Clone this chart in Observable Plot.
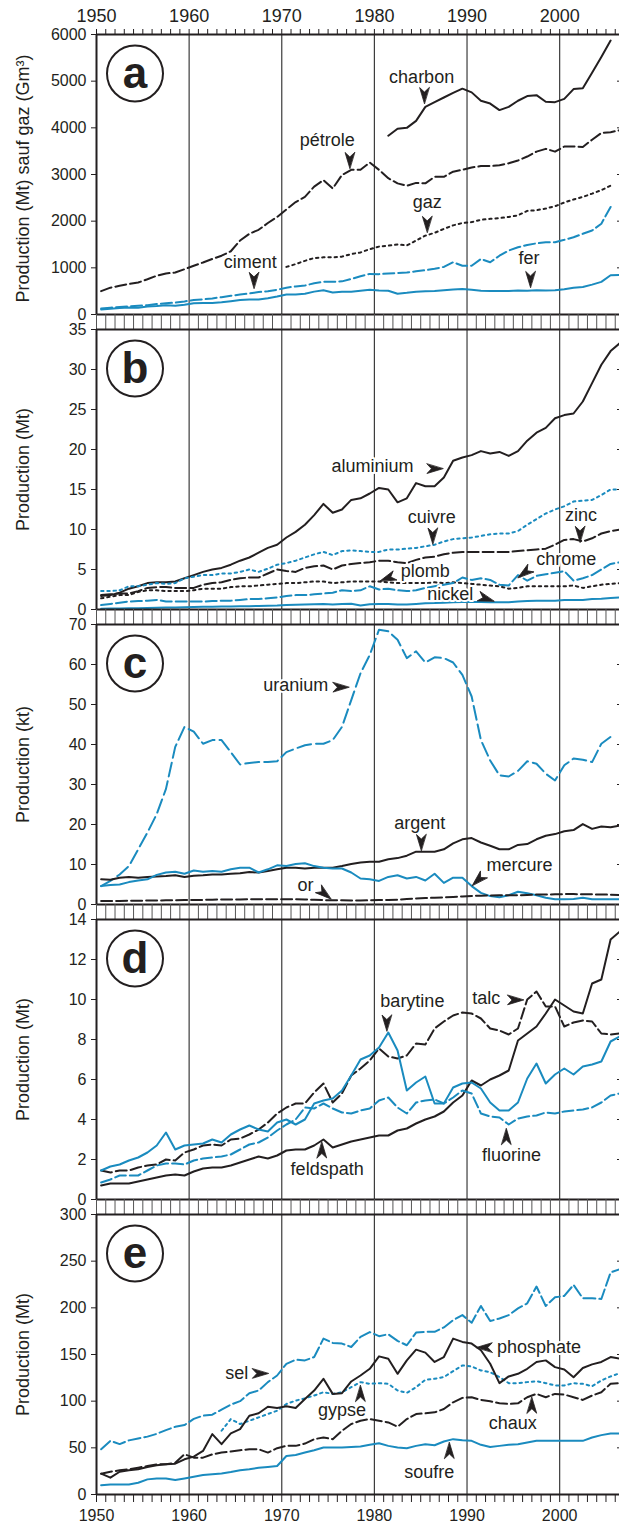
<!DOCTYPE html>
<html><head><meta charset="utf-8">
<script src="https://cdn.jsdelivr.net/npm/d3@7"></script>
<script src="https://cdn.jsdelivr.net/npm/@observablehq/plot@0.6"></script>
<style>
body{margin:0;background:#fff;}
#chart{position:relative;width:619px;height:1523px;overflow:hidden;background:#fff;}
#chart svg{position:absolute;left:0;}
</style></head><body><div id="chart"></div><script>
// ---------- data ----------
const years = d3.range(1950, 2007);
const decades = [1950, 1960, 1970, 1980, 1990, 2000];

// panel a (Mt, gaz in Gm3)
const petrole = [500,575,615,655,685,755,830,880,900,970, 1045,1115,1190,1260,1355,1585,1730,1815,1960,2090, 2250,2410,2520,2740,2880,2700,2990,3100,3100,3255, 3100,2920,2810,2760,2820,2810,2950,2950,3060,3100, 3150,3180,3180,3200,3240,3300,3385,3490,3550,3490, 3600,3600,3590,3745,3890,3905,3950];
const charbonStart = 1981;
const charbon = [3830,3980,4000,4150,4450,4550,4650,4750,4840,4760,4580,4520,4380,4450,4580,4680,4700,4560,4550,4620,4830,4850,5180,5520,5870];
const gazStart = 1970;
const gaz = [1020,1080,1150,1210,1225,1225,1240,1295,1330,1400, 1455,1475,1500,1480,1585,1690,1750,1835,1910,1960, 1980,2030,2050,2065,2090,2125,2220,2235,2270,2320, 2400,2465,2520,2590,2665,2760];
const ciment = [130,145,160,175,190,200,225,240,255,280, 310,325,345,370,400,430,450,480,500,530, 575,600,620,670,700,700,710,760,820,870, 865,880,890,900,925,950,980,1020,1120,1045, 1045,1190,1120,1260,1370,1440,1490,1525,1550,1550, 1600,1655,1730,1800,1945,2305];
const fer = [108,125,140,150,145,170,180,200,190,210, 240,245,245,260,285,310,320,320,350,385, 430,430,445,490,520,470,485,490,510,530, 515,510,445,465,490,500,505,520,535,545, 530,510,505,505,505,515,510,520,515,520, 540,575,590,640,700,840,850];

// panel b (Mt)
const aluminium = [1.7,1.8,2.1,2.6,2.9,3.3,3.4,3.4,3.5,3.9, 4.3,4.7,5.0,5.2,5.6,6.1,6.5,7.1,7.7,8.1, 9.0,9.7,10.6,11.8,13.2,12.1,12.5,13.7,13.9,14.5, 15.2,15.0,13.4,13.9,15.8,15.4,15.4,16.5,18.6,19.0, 19.3,19.8,19.5,19.7,19.2,19.8,21.1,22.1,22.7,23.9, 24.3,24.5,26.0,28.3,30.6,32.3,33.3];
const cuivre = [2.3,2.3,2.4,2.9,2.9,3.1,3.3,3.2,3.3,3.9, 4.1,4.3,4.3,4.5,4.5,4.7,5.0,4.7,5.1,5.6, 5.8,6.1,6.5,6.9,7.2,6.8,7.3,7.4,7.3,7.2, 7.2,7.5,7.5,7.6,7.7,7.9,8.1,8.5,8.8,8.9, 9.0,9.2,9.4,9.5,9.5,9.8,10.6,11.3,12.0,12.5, 12.9,13.5,13.6,13.7,14.3,15.0,15.0];
const zinc = [1.8,1.9,2.0,2.0,2.3,2.7,2.8,2.8,2.7,2.7, 2.7,3.1,3.3,3.4,3.7,3.9,4.0,4.0,4.5,5.0, 4.8,4.7,5.2,5.4,5.5,5.0,5.5,5.7,5.8,5.9, 6.1,6.1,5.9,5.8,6.2,6.5,6.6,6.9,7.1,7.2, 7.2,7.2,7.2,7.2,7.2,7.3,7.4,7.5,7.6,8.1, 8.7,8.8,8.5,8.9,9.5,9.8,10.0];
const plomb = [1.4,1.6,1.8,1.8,2.2,2.4,2.4,2.3,2.3,2.3, 2.4,2.6,2.6,2.6,2.8,2.9,2.9,3.0,3.1,3.2, 3.3,3.3,3.4,3.5,3.5,3.3,3.4,3.5,3.5,3.5, 3.5,3.4,3.3,3.3,3.3,3.3,3.4,3.3,3.4,3.3, 3.2,3.1,3.0,2.9,2.6,2.7,2.9,2.9,2.9,2.9, 2.9,3.0,2.7,2.9,3.1,3.2,3.3];
const chrome = [0.55,0.7,0.85,1.0,1.05,1.1,1.2,1.0,1.0,1.0, 1.0,1.0,1.05,1.1,1.1,1.2,1.3,1.3,1.4,1.5, 1.7,1.8,1.8,1.9,2.0,2.1,2.4,2.3,2.4,2.9, 2.5,2.6,2.4,2.3,2.4,2.7,2.9,3.1,3.3,4.0, 3.7,3.9,3.7,3.1,3.0,4.3,3.6,4.2,4.4,4.6, 4.8,3.6,3.9,4.3,5.0,5.7,5.9];
const nickel = [0.1,0.12,0.14,0.15,0.17,0.2,0.22,0.25,0.25,0.28, 0.3,0.33,0.35,0.37,0.38,0.4,0.42,0.45,0.48,0.5, 0.55,0.6,0.62,0.65,0.7,0.62,0.7,0.72,0.5,0.65, 0.7,0.7,0.62,0.62,0.7,0.78,0.8,0.85,0.9,0.95, 0.95,0.95,0.92,0.9,0.9,1.0,1.05,1.1,1.1,1.1, 1.2,1.2,1.2,1.3,1.35,1.45,1.5];

// panel c (kt)
const uranium = [4.6,5.9,7.5,9.6,13.8,18.0,22.6,28.9,39.4,44.4, 43.2,40.2,41.1,41.1,38.1,35.0,35.4,35.6,35.6,35.8, 38.1,39.0,39.8,40.2,40.2,41.1,44.4,51.1,57.8,62.4, 68.7,68.3,66.2,61.6,63.3,60.5,61.8,61.6,60.5,57.4, 52.0,41.1,36.0,32.3,32.0,33.4,35.8,35.2,32.7,31.0, 34.8,36.5,36.2,35.6,40.2,41.9];
const argent = [6.3,6.2,6.7,6.9,6.7,6.9,7.0,7.1,7.3,6.9, 7.2,7.3,7.5,7.5,7.7,7.8,8.1,8.0,8.4,8.8, 9.2,9.2,9.0,9.2,9.2,9.2,9.6,10.1,10.5,10.7, 10.7,11.3,11.6,12.2,13.2,13.2,13.2,13.8,15.3,16.3, 16.6,15.5,14.7,13.8,13.8,14.9,15.1,16.3,17.2,17.6, 18.3,18.6,20.1,18.9,19.5,19.3,19.7];
const mercure = [4.6,4.9,5.0,5.6,6.0,6.3,7.4,8.0,8.2,7.7, 8.5,8.2,8.4,8.2,8.8,9.2,9.2,8.0,8.8,9.8, 9.6,10.1,10.3,9.6,9.2,9.0,9.0,8.0,6.5,6.3, 5.9,6.9,7.3,6.5,6.9,6.0,7.7,5.4,6.7,6.7, 4.6,2.9,2.1,1.8,2.3,3.2,2.8,2.3,1.7,1.3, 1.3,1.4,1.7,1.3,1.3,1.3,1.3];
const or = [0.85,0.87,0.9,0.92,0.95,0.98,1.0,1.05,1.05,1.1, 1.1,1.15,1.2,1.25,1.25,1.25,1.3,1.3,1.3,1.3, 1.3,1.3,1.25,1.2,1.1,1.05,1.05,1.0,1.0,1.05, 1.1,1.1,1.2,1.4,1.5,1.6,1.7,1.8,1.9,2.0, 2.15,2.2,2.25,2.3,2.3,2.3,2.4,2.5,2.5,2.55, 2.6,2.6,2.55,2.55,2.5,2.45,2.4];

// panel d (Mt)
const feldspath = [0.7,0.8,0.8,0.8,0.9,1.0,1.1,1.2,1.25,1.2, 1.4,1.55,1.6,1.6,1.7,1.85,2.0,2.15,2.05,2.2, 2.45,2.5,2.5,2.7,3.0,2.6,2.75,2.9,3.0,3.1, 3.2,3.2,3.45,3.55,3.8,4.0,4.15,4.4,4.85,5.2, 5.95,5.7,6.0,6.2,6.45,7.95,8.3,8.65,9.3,10.0, 9.7,9.4,9.3,10.8,11.0,13.0,13.4];
const talc = [1.45,1.35,1.45,1.45,1.6,1.7,1.75,2.0,1.95,2.35, 2.5,2.7,2.75,2.7,3.0,3.05,3.25,3.5,3.85,4.3, 4.6,4.8,4.8,5.35,5.8,4.85,5.3,6.2,6.55,6.95, 7.55,7.15,7.05,7.2,7.8,7.75,8.55,8.9,9.2,9.35, 9.3,9.05,8.55,8.45,8.25,8.55,10.0,10.4,9.65,9.65, 8.65,8.85,8.95,8.9,8.3,8.25,8.3];
const barytine = [1.45,1.65,1.75,1.95,2.1,2.35,2.7,3.35,2.5,2.7, 2.75,2.8,3.0,2.85,3.25,3.5,3.7,3.5,3.4,3.85, 4.0,3.75,4.0,4.8,4.95,5.05,5.45,6.2,7.0,7.2, 7.6,8.35,7.45,5.45,5.85,6.15,4.8,4.8,5.6,5.8, 5.85,5.55,4.85,4.45,4.45,4.85,6.05,6.8,5.8,6.25, 6.55,6.25,6.65,6.75,6.9,7.9,8.15];
const fluorine = [0.85,1.0,1.2,1.2,1.2,1.45,1.7,1.8,1.8,1.75, 1.95,2.05,2.1,2.15,2.25,2.5,2.75,2.85,3.1,3.45, 3.75,4.0,4.6,4.55,4.8,4.55,4.35,4.3,4.45,4.55, 4.95,5.1,4.6,4.3,4.85,4.95,5.0,4.8,5.1,5.45, 5.3,4.3,4.15,4.1,3.75,4.05,4.15,4.2,4.35,4.3, 4.4,4.45,4.5,4.6,4.85,5.2,5.3];

// panel e (Mt)
const sel = [48.5,57.5,54,58,60,62,65,69,72.5,74.4, 81,84.5,85.5,91,96.3,100,108.5,111.4,120.4,127.5, 140,144.4,143.7,147.3,167,162.4,161.7,158,168.9,174, 169.6,171.7,164.6,159.9,173.5,174.3,174.3,179,186.8,192.2, 184,202,185.8,188.6,192.2,199.4,204.8,222.8,202,211.3, 212.7,224.6,210.2,210.2,209.5,237.9,241.4];
const phosphate = [22.3,18,24.4,25.9,27,29.5,31.3,32.3,33,37.7, 40.6,46.7,64.7,53.9,65.4,70,84.4,87,94,92.7, 94.5,92.7,102.4,111.4,124,107.8,108.5,121.1,127.5,134.7, 148,145.5,129.3,143.7,155.2,152,142,147.3,167,163.5, 161.7,154.5,140.1,119.3,126.5,129.3,134.7,142,143.7,136.5, 134,125.7,135.5,139.4,142,147.3,145.5];
const gypseStart = 1963;
const gypse = [68.3,80.8,75.5,79,82.6,86.2,89.8, 97,100.6,103,106,109.6,107.8,109.6,115,120.4,118.6, 119.3,118.6,111.4,108.9,115,122.9,124,125.8,132.2,138.3, 137.2,132.9,131.1,125.8,119.3,119.3,120.4,121.4,119.3,116.8, 116.8,119.3,118.6,116,122.2,126.5,130];
const chaux = [22.3,24.4,25.9,27,28.7,30.5,32.3,32.3,34.1,43.1, 39.5,39.5,43,44.9,46,47.4,48.5,48.5,44.9,49.6, 52.1,52.1,54.6,59.3,61,59.3,68.3,75.5,79,80.8, 79,77.2,72.6,80.8,86.2,87,88,91.6,98.8,103.5, 104.2,101.3,99.9,97.7,97,97.7,104.2,107.8,104.2,107.8, 107.1,104.2,101.3,106,109.6,118.6,119.3];
const soufre = [10,10.8,10.8,10.8,12.6,16.2,17.2,17.2,15.5,17.2, 19,20.8,21.6,22.6,24,25.9,27,28.7,29.5,30.5, 41.3,42.4,44.9,47.4,50.3,50.3,50.3,51,51.4,53.2, 55,52.1,50.3,49.6,52.1,53.9,52.8,56.8,59.3,58.2, 57.5,53.2,51,52.1,53.2,53.9,55.7,57.5,57.5,57.5, 57.5,57.5,57.5,61,63.6,65.4,65.4];

// ---------- styles ----------
const BLACK = "#231f20", BLUE = "#1a8bbf";
const DASH = "11,4", DOT = "2.4,3.8";
const FONT = "'Liberation Sans', Arial, Helvetica, sans-serif";

const rows = (values, start = 1950) => values.map((v, i) => ({year: start + i, v}));

const panels = [
  {key: "a", T: 34, mt: 34, mb: 15, max: 6000, step: 1000, title: "Production (Mt) sauf gaz (Gm³)", titleDy: 4,
   series: [
     {d: rows(petrole), c: BLACK, dash: DASH},
     {d: rows(charbon, charbonStart), c: BLACK},
     {d: rows(gaz, gazStart), c: BLACK, dash: DOT},
     {d: rows(ciment), c: BLUE, dash: DASH},
     {d: rows(fer), c: BLUE}],
   labels: [{t: "charbon", x: 1985.1, y: 5080}, {t: "pétrole", x: 1974.9, y: 3730}, {t: "gaz", x: 1985.7, y: 2410}, {t: "ciment", x: 1966.6, y: 1115}, {t: "fer", x: 1996.7, y: 1200}],
   arrows: [{x: 1985.4, y: 4520, r: 180}, {x: 1977.35, y: 3130, r: 180}, {x: 1985.7, y: 1760, r: 180}, {x: 1967.0, y: 560, r: 180}, {x: 1996.85, y: 580, r: 180}]},
  {key: "b", T: 329, mt: 20, mb: 15, max: 35, step: 5, title: "Production (Mt)", titleDy: 0,
   series: [
     {d: rows(aluminium), c: BLACK},
     {d: rows(cuivre), c: BLUE, dash: DOT},
     {d: rows(zinc), c: BLACK, dash: DASH},
     {d: rows(plomb), c: BLACK, dash: DOT},
     {d: rows(chrome), c: BLUE, dash: DASH},
     {d: rows(nickel), c: BLUE}],
   labels: [{t: "aluminium", x: 1979.8, y: 17.96}, {t: "cuivre", x: 1986.2, y: 11.54}, {t: "zinc", x: 2002.3, y: 11.75}, {t: "chrome", x: 2000.7, y: 6.29}, {t: "plomb", x: 1985.5, y: 4.81}, {t: "nickel", x: 1988.2, y: 1.875}],
   arrows: [{x: 1987.4, y: 17.6, r: 90}, {x: 1986.3, y: 8.18, r: 180}, {x: 2002.2, y: 8.4, r: 180}, {x: 1995.5, y: 3.98, r: 233}, {x: 1980.6, y: 3.55, r: 249}, {x: 1992.9, y: 1.03, r: 108}]},
  {key: "c", T: 624, mt: 20, mb: 15, max: 70, step: 10, title: "Production (kt)", titleDy: 0,
   series: [
     {d: rows(uranium), c: BLUE, dash: "14,5"},
     {d: rows(argent), c: BLACK},
     {d: rows(mercure), c: BLUE},
     {d: rows(or), c: BLACK, dash: DASH}],
   labels: [{t: "uranium", x: 1971.5, y: 54.8}, {t: "argent", x: 1984.9, y: 20.25}, {t: "mercure", x: 1995.66, y: 9.875}, {t: "or", x: 1972.57, y: 4.75}],
   arrows: [{x: 1977.25, y: 54.3, r: 90}, {x: 1985.06, y: 13.5, r: 180}, {x: 1990.57, y: 4.75, r: 226}, {x: 1975.3, y: 1.375, r: 129}]},
  {key: "d", T: 919, mt: 20, mb: 15, max: 14, step: 2, title: "Production (Mt)", titleDy: 0,
   series: [
     {d: rows(talc), c: BLACK, dash: DASH},
     {d: rows(feldspath), c: BLACK},
     {d: rows(fluorine), c: BLUE, dash: DASH},
     {d: rows(barytine), c: BLUE}],
   labels: [{t: "barytine", x: 1984.1, y: 9.935}, {t: "talc", x: 1992.07, y: 10.075}, {t: "feldspath", x: 1974.9, y: 1.495}, {t: "fluorine", x: 1994.8, y: 2.2}],
   arrows: [{x: 1981.34, y: 8.425, r: 180}, {x: 1996.1, y: 9.975, r: 90}, {x: 1974.33, y: 2.875, r: 0}, {x: 1994.25, y: 3.545, r: 0}]},
  {key: "e", T: 1214, mt: 20, mb: 29, max: 300, step: 50, title: "Production (Mt)", titleDy: 0,
   series: [
     {d: rows(sel), c: BLUE, dash: "12,4"},
     {d: rows(gypse, gypseStart), c: BLUE, dash: DOT},
     {d: rows(chaux), c: BLACK, dash: DASH},
     {d: rows(phosphate), c: BLACK},
     {d: rows(soufre), c: BLUE}],
   labels: [{t: "sel", x: 1965.15, y: 129.4}, {t: "phosphate", x: 1997.76, y: 158.2}, {t: "gypse", x: 1976.5, y: 90}, {t: "chaux", x: 1994.94, y: 76.5}, {t: "soufre", x: 1985.93, y: 24.3}],
   arrows: [{x: 1968.55, y: 129.6, r: 90}, {x: 1991.0, y: 157.5, r: 270}, {x: 1978.5, y: 116.8, r: 0}, {x: 1997.0, y: 104.2, r: 0}, {x: 1988.1, y: 55.7, r: 0}]}
];

// filled dart-shaped arrowhead (tip at the far end of the vector)
const dart = {
  draw(context, l) {
    const w = 4.8, notch = 4.5;
    context.moveTo(0, -l);
    context.lineTo(w, 0);
    context.lineTo(0, -notch);
    context.lineTo(-w, 0);
    context.closePath();
  }
};

const chart = document.getElementById("chart");
panels.forEach((p, idx) => {
  const height = p.mt + 280 + p.mb;
  const yTicks = d3.range(0, p.max + p.step / 2, p.step);
  const marks = [
    Plot.ruleX([1960, 1970, 1980, 1990, 2000], {stroke: "#3c3c3c", strokeWidth: 1.2}),
    ...p.series.map(s => Plot.line(s.d, {x: d => d.year + 0.5, y: "v", stroke: s.c, strokeWidth: 2, strokeDasharray: s.dash, strokeLinejoin: "round"})),
    Plot.ruleY([0, p.max], {stroke: BLACK, strokeWidth: 2}),
    Plot.ruleX([1950], {stroke: BLACK, strokeWidth: 2}),
    Plot.axisY({ticks: yTicks, tickSize: 5, tickPadding: 5, tickFormat: d => `${d}`, fontSize: 16, label: null, stroke: BLACK, fill: BLACK}),
    Plot.axisY({anchor: "right", ticks: yTicks, tickSize: -8, tickFormat: () => "", label: null, stroke: BLACK}),
    Plot.text([p.title], {frameAnchor: "left", dx: -73, dy: p.titleDy, rotate: -90, fontSize: 18, fill: BLACK, textAnchor: "middle", lineAnchor: "middle"}),
    Plot.dot([p.key], {frameAnchor: "top-left", dx: 38.5, dy: 39, r: 28, stroke: BLACK, strokeWidth: 2, fill: "white"}),
    Plot.text([p.key], {frameAnchor: "top-left", dx: 38.5, dy: 39, fontSize: 44, fontWeight: "bold", fill: BLACK, textAnchor: "middle", lineAnchor: "middle"}),
    Plot.text(p.labels, {x: "x", y: "y", text: "t", fontSize: 18, fill: BLACK, stroke: "white", strokeWidth: 4, textAnchor: "middle", lineAnchor: "middle"}),
    Plot.vector(p.arrows, {x: "x", y: "y", rotate: "r", length: 16, anchor: "end", shape: dart, stroke: BLACK, fill: BLACK, strokeWidth: 0.8, strokeLinejoin: "miter"})
  ];
  if (idx === 0) {
    marks.push(Plot.axisX({anchor: "top", ticks: years, tickSize: 6, tickFormat: () => "", label: null, stroke: BLACK}));
    marks.push(Plot.axisX({anchor: "top", ticks: decades, tickSize: 0, tickPadding: 13, tickFormat: d => `${d}`, fontSize: 18, label: null, fill: BLACK}));
  }
  if (idx < panels.length - 1) {
    marks.push(Plot.axisX({anchor: "bottom", ticks: years, tickSize: 15, tickFormat: () => "", label: null, stroke: "#555", strokeWidth: 1}));
  } else {
    marks.push(Plot.axisX({anchor: "bottom", ticks: years, tickSize: 8, tickFormat: () => "", label: null, stroke: BLACK}));
    marks.push(Plot.axisX({anchor: "bottom", ticks: decades, tickSize: 0, tickPadding: 15, tickFormat: d => `${d}`, fontSize: 16, label: null, fill: BLACK}));
  }
  const svg = Plot.plot({
    width: 624, height,
    marginLeft: 96, marginRight: 0, marginTop: p.mt, marginBottom: p.mb,
    x: {domain: [1950, 2007]},
    y: {domain: [0, p.max]},
    style: {fontFamily: FONT, fontSize: "16px", background: "transparent", overflow: "visible", maxWidth: "none", color: BLACK},
    marks
  });
  svg.style.top = (p.T - p.mt) + "px";
  chart.appendChild(svg);
});
</script></body></html>
